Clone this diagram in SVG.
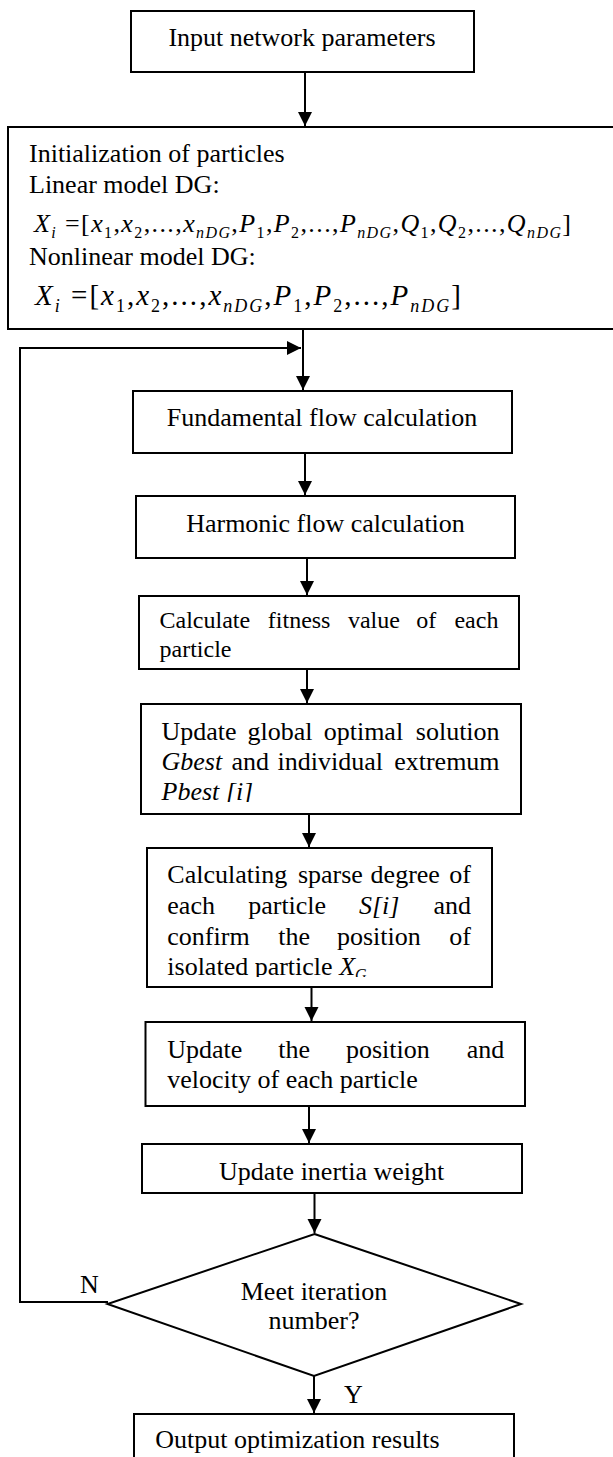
<svg xmlns="http://www.w3.org/2000/svg" width="613" height="1457" viewBox="0 0 613 1457">
<style>
text{font-family:"Liberation Serif","Times New Roman",serif;font-size:26px;fill:#000}
.s24{font-size:24px}
.i{font-style:italic}
.sub{font-size:16px}
.c{text-anchor:middle}
.e{text-anchor:end}
.box{fill:#fff;stroke:#000;stroke-width:2}
.ln{fill:none;stroke:#000;stroke-width:2}
</style>
<defs>
<marker id="ah" markerUnits="userSpaceOnUse" markerWidth="15" markerHeight="15" refX="14" refY="7" orient="auto">
<path d="M0,0 L14,7 L0,14 Z" fill="#000"/>
</marker>
<clipPath id="clipPb"><rect x="140" y="704" width="382" height="98"/></clipPath>
<clipPath id="clipIso"><rect x="147" y="848" width="345" height="129"/></clipPath>
</defs>
<rect width="613" height="1457" fill="#fff"/>

<g id="connectors">
<line class="ln" x1="305" y1="72" x2="305" y2="126" marker-end="url(#ah)"/>
<line class="ln" x1="303" y1="329" x2="303" y2="390" marker-end="url(#ah)"/>
<polyline class="ln" points="108,1302 20,1302 20,348 301,348" marker-end="url(#ah)"/>
<line class="ln" x1="305" y1="453" x2="305" y2="495" marker-end="url(#ah)"/>
<line class="ln" x1="307" y1="558" x2="307" y2="595" marker-end="url(#ah)"/>
<line class="ln" x1="307" y1="669" x2="307" y2="703" marker-end="url(#ah)"/>
<line class="ln" x1="309" y1="814" x2="309" y2="847" marker-end="url(#ah)"/>
<line class="ln" x1="311.5" y1="987" x2="311.5" y2="1021" marker-end="url(#ah)"/>
<line class="ln" x1="309" y1="1106" x2="309" y2="1143" marker-end="url(#ah)"/>
<line class="ln" x1="314.5" y1="1193" x2="314.5" y2="1233" marker-end="url(#ah)"/>
<line class="ln" x1="314" y1="1376" x2="314" y2="1413" marker-end="url(#ah)"/>
<text x="80" y="1293">N</text>
<text x="344" y="1403">Y</text>
</g>

<g id="n1">
<rect class="box" x="131" y="11" width="343" height="61"/>
<text class="c" x="302" y="46">Input network parameters</text>
</g>

<g id="n2">
<rect class="box" x="8" y="127" width="620" height="202"/>
<text x="29" y="162">Initialization of particles</text>
<text x="29" y="193">Linear model DG:</text>
<text x="34" y="232" textLength="537" lengthAdjust="spacing"><tspan class="i">X</tspan><tspan class="i sub" dy="6">i</tspan><tspan dy="-6"> =[</tspan><tspan class="i">x</tspan><tspan class="sub" dy="6">1</tspan><tspan dy="-6">,</tspan><tspan class="i">x</tspan><tspan class="sub" dy="6">2</tspan><tspan dy="-6">,...,</tspan><tspan class="i">x</tspan><tspan class="sub i" dy="6">nDG</tspan><tspan dy="-6">,</tspan><tspan class="i">P</tspan><tspan class="sub" dy="6">1</tspan><tspan dy="-6">,</tspan><tspan class="i">P</tspan><tspan class="sub" dy="6">2</tspan><tspan dy="-6">,...,</tspan><tspan class="i">P</tspan><tspan class="sub i" dy="6">nDG</tspan><tspan dy="-6">,</tspan><tspan class="i">Q</tspan><tspan class="sub" dy="6">1</tspan><tspan dy="-6">,</tspan><tspan class="i">Q</tspan><tspan class="sub" dy="6">2</tspan><tspan dy="-6">,...,</tspan><tspan class="i">Q</tspan><tspan class="sub i" dy="6">nDG</tspan><tspan dy="-6">]</tspan></text>
<text x="29" y="265">Nonlinear model DG:</text>
<text x="35" y="305" style="font-size:29px" textLength="426" lengthAdjust="spacing"><tspan class="i">X</tspan><tspan class="i" style="font-size:18px" dy="7">i</tspan><tspan dy="-7"> =[</tspan><tspan class="i">x</tspan><tspan style="font-size:18px" dy="7">1</tspan><tspan dy="-7">,</tspan><tspan class="i">x</tspan><tspan style="font-size:18px" dy="7">2</tspan><tspan dy="-7">,...,</tspan><tspan class="i">x</tspan><tspan class="i" style="font-size:18px" dy="7">nDG</tspan><tspan dy="-7">,</tspan><tspan class="i">P</tspan><tspan style="font-size:18px" dy="7">1</tspan><tspan dy="-7">,</tspan><tspan class="i">P</tspan><tspan style="font-size:18px" dy="7">2</tspan><tspan dy="-7">,...,</tspan><tspan class="i">P</tspan><tspan class="i" style="font-size:18px" dy="7">nDG</tspan><tspan dy="-7">]</tspan></text>
</g>

<g id="n3">
<rect class="box" x="133" y="391" width="379" height="62"/>
<text class="c" x="322" y="426">Fundamental flow calculation</text>
</g>

<g id="n4">
<rect class="box" x="136" y="496" width="379" height="62"/>
<text class="c" x="325.5" y="532">Harmonic flow calculation</text>
</g>

<g id="n5">
<rect class="box" x="139" y="596" width="380" height="73"/>
<text class="s24" x="159.5" y="628">Calculate</text>
<text class="s24" x="267.8" y="628">fitness</text>
<text class="s24" x="347.9" y="628">value</text>
<text class="s24" x="416.3" y="628">of</text>
<text class="s24 e" x="498.4" y="628">each</text>
<text class="s24" x="159.5" y="657">particle</text>
</g>

<g id="n6">
<rect class="box" x="141" y="704" width="380" height="110"/>
<text x="161.5" y="740">Update</text>
<text x="247.5" y="740">global</text>
<text x="323.7" y="740">optimal</text>
<text class="e" x="499.6" y="740">solution</text>
<text class="i" x="161.5" y="770">Gbest</text>
<text x="231.4" y="770">and</text>
<text x="277.6" y="770">individual</text>
<text class="e" x="499.6" y="770">extremum</text>
<text class="i" x="161.5" y="800" clip-path="url(#clipPb)">Pbest [i]</text>
</g>

<g id="n7">
<rect class="box" x="147" y="848" width="345" height="139"/>
<text x="167.3" y="883">Calculating</text>
<text x="297.9" y="883">sparse</text>
<text x="370.6" y="883">degree</text>
<text class="e" x="471" y="883">of</text>
<text x="167.3" y="914">each</text>
<text x="248.2" y="914">particle</text>
<text class="i" x="358.9" y="914">S[i]</text>
<text class="e" x="471" y="914">and</text>
<text x="167.3" y="945">confirm</text>
<text x="278.3" y="945">the</text>
<text x="337" y="945">position</text>
<text class="e" x="471" y="945">of</text>
<text x="167.3" y="975" clip-path="url(#clipIso)">isolated particle <tspan class="i">X</tspan><tspan class="i sub" dy="5">G</tspan></text>
</g>

<g id="n8">
<rect class="box" x="145.5" y="1022" width="379.5" height="84"/>
<text x="167.3" y="1058">Update</text>
<text x="278.3" y="1058">the</text>
<text x="346" y="1058">position</text>
<text class="e" x="504.3" y="1058">and</text>
<text x="167.3" y="1088">velocity of each particle</text>
</g>

<g id="n9">
<rect class="box" x="142" y="1144" width="380" height="49"/>
<text class="c" x="331.7" y="1180">Update inertia weight</text>
</g>

<g id="n10">
<polygon class="box" points="314.5,1234 521,1304 314,1376 107.5,1304"/>
<text class="c" x="314" y="1300">Meet iteration</text>
<text class="c" x="314" y="1329">number?</text>
</g>

<g id="n11">
<rect class="box" x="134" y="1414" width="380" height="60"/>
<text x="155.2" y="1448">Output optimization results</text>
</g>
</svg>
